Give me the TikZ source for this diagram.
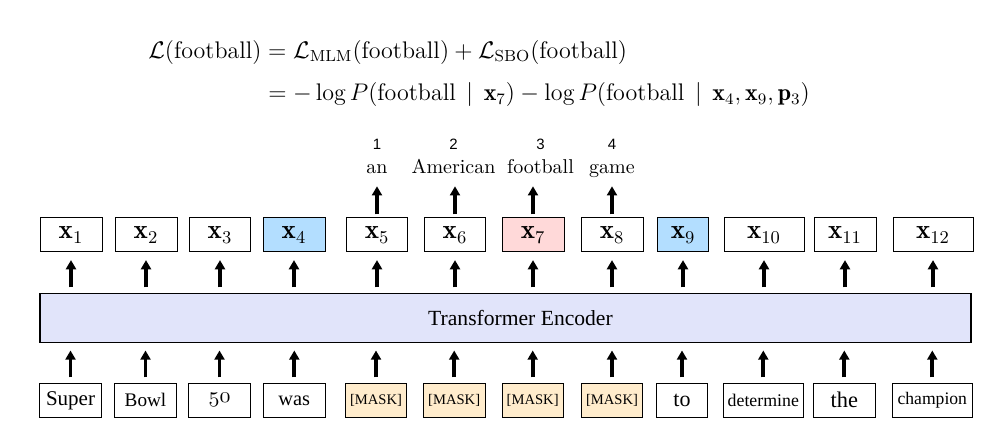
\documentclass[tikz,border=0pt]{standalone}
\usepackage{amsmath}
\usepackage{fontspec}
\usetikzlibrary{arrows.meta, positioning}

\newfontfamily\wordfont{Liberation Serif}
\newfontfamily\numfont{Liberation Sans}
\newcommand\oldfifty{{\usefont{OML}{cmm}{m}{it}50}}

\definecolor{spanblue}{RGB}{179,222,255}
\definecolor{targetpink}{RGB}{255,217,217}
\definecolor{maskfill}{RGB}{255,236,204}
\definecolor{encfill}{RGB}{225,228,250}

\begin{document}
\begin{tikzpicture}[
  x=0.5pt, y=-0.5pt,
  >={Triangle[width=5pt,length=4.6pt]},
  tok/.style={rectangle, draw=black, line width=0.5pt, minimum height=17pt, inner sep=0pt, font=\fontsize{13.5}{15}\selectfont},
  word/.style={rectangle, draw=black, line width=0.5pt, minimum height=17pt, inner sep=0pt},
  enc/.style={rectangle, draw=black, line width=0.6pt, fill=encfill, minimum width=465.5pt, minimum height=24.5pt, inner sep=0pt, font=\wordfont\fontsize{10.8}{12}\selectfont},
  up/.style={->, line width=1.9pt},
  lab/.style={inner sep=0pt, text height=7pt, text depth=2pt, font=\fontsize{10}{12}\selectfont},
  num/.style={inner sep=0pt, font=\numfont\fontsize{7.5}{8}\selectfont}
]
\useasboundingbox (0,0) rectangle (997,437);

% Loss
\node[anchor=west, inner sep=0pt, font=\fontsize{12}{14}\selectfont] (loss) at (148,74) {$\begin{aligned}
  \mathcal{L}(\text{football}) &= \mathcal{L}_{\mathrm{MLM}}(\text{football}) + \mathcal{L}_{\mathrm{SBO}}(\text{football})\\[4.2pt]
  &= -\log P(\text{football} \mkern3mu\mid\mkern3mu \mathbf{x}_7) - \log P(\text{football} \mkern3mu\mid\mkern3mu \mathbf{x}_4, \mathbf{x}_9, \mathbf{p}_3)
\end{aligned}$};

% Encoder
\node[enc] (enc) at (505.5,317.8) {\hspace*{15pt}Transformer Encoder};

% Output vectors
\foreach \i/\cx/\bw/\fc in {1/71/31/white, 2/146/31/white, 3/220/30.7/white, 4/294/31/spanblue, 5/377/30.5/white, 6/455/30.5/white, 7/533/31/targetpink, 8/612/31/white, 9/683/25.7/spanblue, 10/764/40/white, 11/845/31/white, 12/933/40/white} {
    \node[tok, minimum width=\bw pt, fill=\fc] (h\i) at (\cx,235) {$\mathbf{x}_{\i}$};
}

% Input tokens
\foreach \i/\cx/\bw/\fc/\fs/\txt in {1/70.5/31/white/10.5/Super, 2/145.5/31.3/white/9.6/Bowl, 3/219.5/31/white/11/\oldfifty, 4/294.3/31/white/10.2/was, 5/376/30.7/maskfill/7.3/[MASK], 6/454.2/30.8/maskfill/7.3/[MASK], 7/532.7/30.7/maskfill/7.3/[MASK], 8/612/30.7/maskfill/7.3/[MASK], 9/682/25.3/white/11/to, 10/763.3/40/white/8.9/determine, 11/844.3/31/white/11.2/the, 12/932.3/40/white/8.8/champion} {
    \node[word, minimum width=\bw pt, fill=\fc, font=\wordfont\fontsize{\fs}{\fs}\selectfont] (w\i) at (\cx,400.3) {\txt};
}

\foreach \i in {1,...,12} {
    \draw[up, shorten <=2.7pt, shorten >=3.8pt] (w\i.north) -- (w\i.north |- enc.south);
    \draw[up, shorten <=2.7pt, shorten >=3.8pt] (h\i.south |- enc.north) -- (h\i.south);
}

% Predicted span
\foreach \i/\cx/\rk/\txt in {5/377/1/an, 6/453.5/2/American, 7/540.5/3/football, 8/612/4/game} {
    \node[lab, anchor=base] (l\i) at (\cx,173.3) {\txt};
    \node[num, above=4.3pt of l\i] (n\i) {\rk};
    \draw[up, shorten <=1.6pt, shorten >=4.3pt] (h\i.north) -- (h\i.north |- l\i.south);
}

\end{tikzpicture}
\end{document}
